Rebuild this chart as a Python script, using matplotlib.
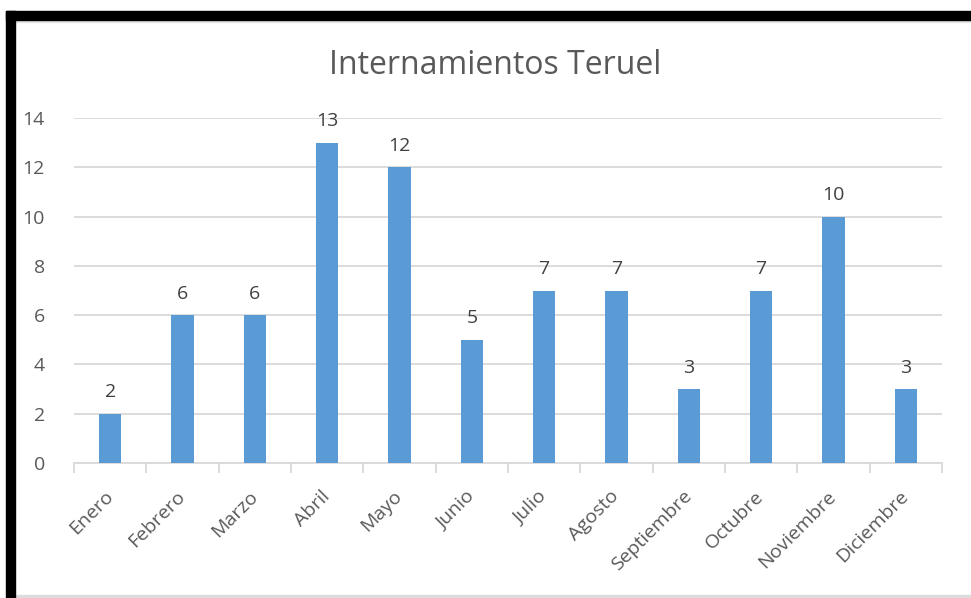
"""
plot.py - Internamientos Teruel bar chart
"""

import numpy as np
import matplotlib
matplotlib.use("Agg")
import matplotlib.pyplot as plt
from matplotlib.patches import Rectangle

# Data
meses = ["Enero", "Febrero", "Marzo", "Abril", "Mayo", "Junio", "Julio",
         "Agosto", "Septiembre", "Octubre", "Noviembre", "Diciembre"]
internamientos = [2, 6, 6, 13, 12, 5, 7, 7, 3, 7, 10, 3]
y_ticks = [0, 2, 4, 6, 8, 10, 12, 14]

plt.rcParams['font.family'] = ['Open Sans', 'DejaVu Sans']

W, H = 971, 598
fig = plt.figure(figsize=(W / 100, H / 100), dpi=100)

# black frame on top and left, light line at the bottom
fig.patches.append(Rectangle((6 / W, 0), 9 / W, 1 - 11 / H, transform=fig.transFigure,
                             color="black", zorder=10))
fig.patches.append(Rectangle((6 / W, 1 - 20 / H), 1 - 6 / W, 9 / H, transform=fig.transFigure,
                             color="black", zorder=10))
fig.patches.append(Rectangle((15 / W, 1 - 22 / H), 1, 2 / H, transform=fig.transFigure,
                             color="#e6e6e6", zorder=9))
fig.patches.append(Rectangle((15 / W, 0), 1, 3 / H, transform=fig.transFigure,
                             color="#dcdcdc", zorder=9))

ax = fig.add_axes([74 / W, 1 - 463 / H, (942 - 74) / W, (463 - 118) / H])

x = np.arange(len(meses))
ax.bar(x, internamientos, width=0.31, color="#5b9bd5", zorder=3)

for xi, v in zip(x, internamientos):
    ax.text(xi, v + 0.5, str(v), ha="center", va="bottom", fontsize=14, color="#404040")

ax.set_xlim(-0.5, len(meses) - 0.5)
ax.set_ylim(0, 14)
ax.set_yticks(y_ticks)
ax.yaxis.grid(True, color="#d9d9d9", linewidth=1.3, zorder=0)
ax.tick_params(axis="y", length=0, pad=21, labelsize=14, labelcolor="#595959")

# category ticks at boundaries
ax.set_xticks(np.arange(-0.5, len(meses), 1.0))
ax.set_xticklabels([])
ax.tick_params(axis="x", which="major", length=7, color="#d9d9d9", width=1.3)
ax.set_xticks(x, minor=True)
ax.set_xticklabels(meses, minor=True, rotation=45, ha="right", va="center",
                   rotation_mode="anchor", fontsize=14, color="#595959")
ax.tick_params(axis="x", which="minor", length=0, pad=22)

for s in ["top", "right", "left"]:
    ax.spines[s].set_visible(False)
ax.spines["bottom"].set_color("#d9d9d9")
ax.spines["bottom"].set_linewidth(1.3)

fig.text(495 / W, 1 - 66 / H, "Internamientos Teruel", ha="center", va="center",
         fontsize=23, color="#595959")

fig.savefig("out.png", dpi=100)
